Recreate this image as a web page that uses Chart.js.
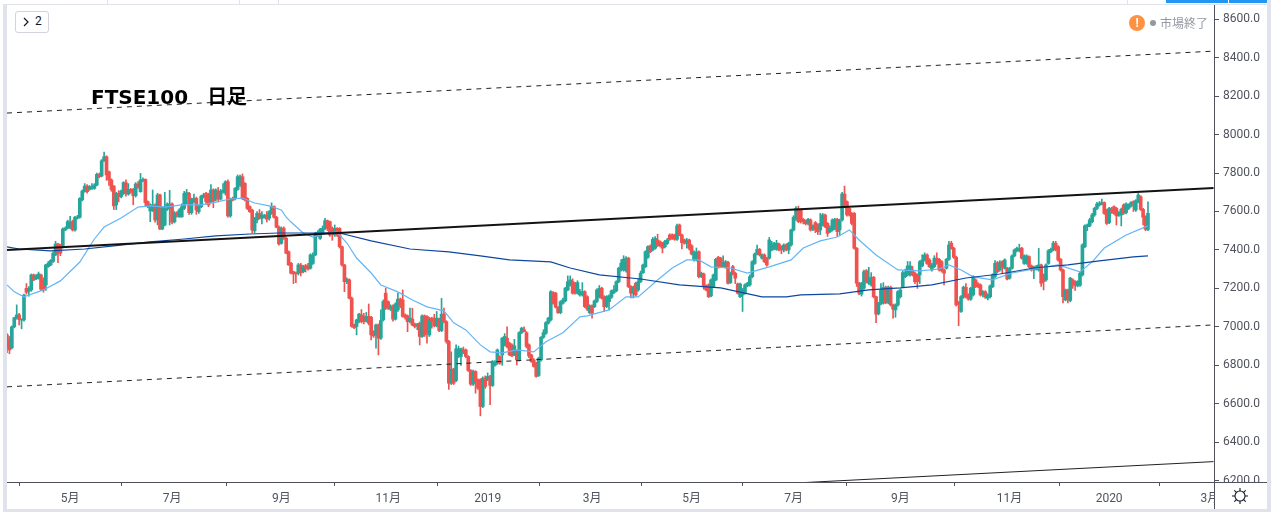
<!DOCTYPE html>
<html lang="ja"><head><meta charset="utf-8">
<script src="https://cdn.jsdelivr.net/npm/chart.js@4"></script>
<style>
html,body{margin:0;padding:0;background:#fff;width:1271px;height:512px;overflow:hidden}
#wrap{position:relative;width:1271px;height:512px}
canvas{position:absolute;left:0;top:0}
.box{position:absolute}
.t{position:absolute;white-space:nowrap}
</style></head><body>
<div id="wrap"><canvas id="c" width="1271" height="512"></canvas>
<div class="box" style="left:3px;top:4px;width:4px;height:505px;background:#e0e3eb"></div>
<div class="box" style="left:3px;top:4px;width:1264px;height:1px;background:#e0e3eb"></div>
<div class="box" style="left:107px;top:0;width:1px;height:4px;background:#e0e3eb"></div>
<div class="box" style="left:239px;top:0;width:1px;height:4px;background:#e0e3eb"></div>
<div class="box" style="left:278px;top:0;width:1px;height:4px;background:#e0e3eb"></div>
<div class="box" style="left:1127px;top:0;width:1px;height:4px;background:#e0e3eb"></div>
<div class="box" style="left:1166px;top:0;width:62px;height:3px;background:#2196f3"></div>
<div class="box" style="left:1229px;top:0;width:38px;height:3px;background:#2196f3"></div>
<div class="box" style="left:1267px;top:0;width:4px;height:512px;background:#e0e3eb"></div>
<div class="box" style="left:3px;top:509px;width:1268px;height:3px;background:#e0e3eb"></div>
<div class="box" style="left:1215px;top:483px;width:52px;height:26px;background:#fff"></div>
<div class="box" style="left:7px;top:482px;width:1260px;height:1px;background:#50535e"></div>
<div class="box" style="left:1214px;top:5px;width:1px;height:504px;background:#50535e"></div>
<div class="box" style="left:15px;top:11px;width:32px;height:20px;border:1px solid #d1d4dc;border-radius:3px;background:#fff"></div>
<svg class="box" style="left:22px;top:17px" width="8" height="10"><path d="M2 1 L6 5 L2 9" fill="none" stroke="#131722" stroke-width="1.2"/></svg>
<div class="t" style="left:35px;top:14px;font:12px Roboto,sans-serif;color:#131722">2</div>
<div class="t" id="title" style="left:91px;top:81px;font:bold 20px 'DejaVu Sans','Noto Sans CJK JP',sans-serif;color:#000"><span>FTSE100</span><span style="margin-left:19px">日足</span></div>
<div class="box" style="left:1129px;top:15px;width:16px;height:16px;border-radius:8px;background:#ff9142"></div>
<div class="t" style="left:1129px;top:15px;width:16px;text-align:center;font:bold 12px/16px Roboto,sans-serif;color:#fff">!</div>
<div class="box" style="left:1150px;top:20px;width:6px;height:6px;border-radius:3px;background:#9598a1"></div>
<div class="t" style="left:1160px;top:14px;font:12px 'Noto Sans CJK JP',sans-serif;color:#9598a1">市場終了</div>
<svg class="box" style="left:1231px;top:487px" width="18" height="18" viewBox="0 0 18 18"><circle cx="9" cy="9" r="5" fill="none" stroke="#131722" stroke-width="1.1"/><path d="M9 1v3M9 14v3M1 9h3M14 9h3M3.3 3.3l2.1 2.1M12.6 12.6l2.1 2.1M3.3 14.7l2.1-2.1M12.6 5.4l2.1-2.1" stroke="#131722" stroke-width="1.1"/></svg>
</div>
<script>
const opens=[6958,6930,6891,7000,7047,7062,7035,7036,7200,7185,7192,7270,7250,7253,7270,7244,7218,7313,7322,7340,7374,7431,7426,7417,7504,7513,7518,7547,7504,7565,
7570,7660,7703,7732,7715,7720,7720,7738,7793,7785,7864,7885,7807,7764,7732,7634,7694,7677,7694,7750,7690,7715,7715,7682,7743,7703,7760,7767,7651,7603,
7603,7634,7556,7686,7509,7530,7612,7616,7639,7547,7594,7572,7572,7616,7686,7694,7594,7651,7668,7599,7625,7677,7694,7686,7651,7712,7664,7706,7664,7703,
7695,7755,7577,7668,7668,7715,7738,7781,7746,7668,7625,7608,7499,7556,7590,7565,7570,7582,7565,7590,7625,7570,7518,7434,7513,7461,7391,7331,7287,7280,7279,
7322,7287,7318,7318,7305,7330,7374,7475,7460,7487,7512,7552,7547,7512,7478,7512,7512,7417,7322,7235,7244,7149,7010,7002,7027,7062,7054,7033,7054,7050,
6976,6958,7010,6941,7036,7175,7131,7092,7109,7040,7088,7144,7140,7062,7057,7027,7040,7015,7005,7019,6950,7057,7054,6958,7045,7045,7005,7040,6981,7066,
7027,6924,6707,6780,6721,6846,6846,6880,6880,6846,6773,6702,6768,6725,6725,6586,6733,6728,6742,6695,6800,6811,6846,6854,6906,6941,6915,6906,6854,6872,6828,
6970,6985,6970,6906,6854,6828,6811,6747,6828,6946,6967,7019,7036,7178,7175,7102,7074,7123,7135,7192,
7218,7235,7227,7175,7166,7166,7183,7157,7074,7109,7105,7132,7157,7201,7157,7105,7131,7154,7178,7187,7235,7296,7296,7292,7357,7209,7175,7227,7192,7235,
7282,7313,7362,7421,7400,7409,7452,7443,7435,7417,7434,7478,7478,7478,7455,7530,7478,7452,7435,7452,7422,7348,7348,7391,7261,7275,7213,7218,7161,7209,
7244,7362,7357,7317,7310,7336,7230,7313,7279,7223,7157,7166,7175,7213,7218,7261,7330,7379,7403,7357,7374,7357,7357,7400,7405,7403,7431,7417,7400,7426,
7400,7426,7504,7559,7611,7608,7559,7550,7539,7556,7510,7542,7530,7504,7530,7582,7538,7495,7504,
7512,7559,7504,7556,7691,7651,7616,7590,7590,7409,7227,7170,7201,7292,7227,7218,7258,7157,7068,7120,7123,7206,7126,7206,7114,7088,7114,7157,7209,7261,
7270,7270,7296,7279,7270,7270,7317,7348,7374,7348,7296,7313,7357,7351,7339,7296,7305,7351,7435,7409,7362,7126,7080,7154,7206,7166,7144,7166,7244,7223,
7218,7166,7183,7149,7157,7209,7261,7334,7296,7339,7305,7305,7253,7305,7369,7396,7396,7409,7330,7330,7365,7317,7296,7300,7296,7322,7270,7244,7330,7391,
7400,7435,7417,7351,7296,7140,7192,7137,7244,7235,7213,7216,7270,7417,7521,7525,7547,7582,7616,7634,7639,7646,7608,7542,7610,7625,7616,7580,7582,7634,7594,
7616,7628,7651,7608,7651,7677,7611,7573,7507];
const highs=[6965,6950,7005,7050,7114,7070,7042,7170,7225,7210,7275,7275,7272,7285,7275,7255,7325,7340,7350,7390,7445,7435,7430,7515,7520,7555,7575,7555,7575,7580,
7672,7712,7745,7740,7735,7745,7745,7800,7800,7870,7909,7890,7810,7770,7735,7700,7708,7712,7755,7765,7745,7720,7720,7750,7755,7798,7775,7770,7655,7640,
7712,7640,7695,7690,7625,7700,7645,7710,7645,7600,7600,7615,7640,7705,7715,7700,7670,7690,7675,7635,7685,7695,7700,7695,7740,7718,7718,7725,7715,7745,
7760,7765,7670,7675,7725,7790,7790,7795,7750,7672,7630,7612,7570,7600,7610,7600,7585,7600,7605,7645,7630,7575,7525,7520,7520,7465,7395,7335,7290,7285,7330,
7330,7320,7325,7330,7380,7385,7492,7500,7512,7525,7565,7556,7550,7520,7530,7516,7516,7420,7325,7255,7250,7155,7015,7040,7070,7090,7070,7075,7119,7055,
6980,7015,7015,7088,7140,7201,7135,7115,7114,7125,7175,7150,7192,7068,7062,7097,7097,7020,7018,7025,7062,7062,7058,7050,7050,7065,7080,7045,7148,7097,
7032,6930,6870,6785,6907,6900,6890,6895,6885,6850,6778,6775,6772,6730,6730,6740,6745,6760,6748,6825,6825,6885,6850,6945,6965,7000,6920,6912,6935,6880,6975,
6998,7000,6975,6912,6858,6835,6816,6842,6950,6985,7028,7050,7188,7183,7180,7106,7136,7150,7206,7265,
7265,7250,7232,7240,7195,7230,7188,7162,7115,7115,7140,7198,7215,7206,7162,7162,7166,7192,7215,7240,7310,7350,7370,7365,7362,7214,7212,7232,7250,7290,
7327,7396,7422,7426,7465,7470,7482,7448,7440,7450,7460,7484,7484,7482,7535,7535,7482,7457,7460,7457,7428,7396,7410,7396,7285,7280,7218,7224,7250,7275,
7356,7367,7362,7370,7345,7341,7285,7320,7285,7228,7228,7200,7224,7232,7270,7344,7384,7425,7408,7380,7380,7362,7465,7445,7440,7450,7436,7422,7432,7432,
7440,7509,7578,7625,7628,7612,7564,7556,7565,7562,7530,7548,7536,7590,7590,7586,7543,7525,7562,
7565,7565,7560,7700,7732,7656,7620,7595,7595,7413,7232,7232,7295,7298,7310,7282,7262,7160,7128,7225,7230,7212,7212,7212,7118,7120,7188,7198,7290,7300,
7340,7340,7315,7285,7275,7345,7375,7385,7380,7355,7330,7370,7385,7356,7345,7302,7356,7445,7445,7414,7368,7132,7162,7212,7225,7172,7206,7266,7250,7230,
7224,7188,7188,7172,7218,7276,7345,7340,7345,7344,7354,7310,7310,7374,7405,7415,7430,7414,7375,7375,7370,7322,7316,7320,7408,7326,7276,7328,7402,7410,
7445,7445,7423,7356,7300,7197,7197,7258,7250,7240,7240,7284,7432,7530,7535,7565,7590,7622,7648,7652,7665,7650,7612,7622,7622,7630,7622,7600,7618,7640,7645,
7640,7652,7656,7662,7695,7682,7616,7578,7650];
const lows=[6866,6860,6885,6995,7040,7010,6990,7030,7170,7160,7185,7240,7245,7248,7190,7180,7190,7310,7318,7335,7370,7334,7370,7410,7500,7510,7510,7498,7498,7560,
7565,7655,7700,7695,7710,7715,7715,7733,7775,7780,7860,7762,7735,7705,7610,7610,7650,7670,7688,7680,7685,7695,7635,7675,7720,7700,7755,7630,7620,7547,
7600,7545,7530,7505,7505,7525,7605,7530,7535,7540,7570,7570,7570,7610,7640,7585,7585,7645,7585,7590,7620,7670,7640,7625,7645,7620,7655,7650,7660,7695,
7685,7570,7570,7655,7660,7710,7730,7662,7655,7610,7595,7490,7490,7540,7560,7535,7565,7545,7555,7585,7565,7515,7425,7430,7455,7380,7320,7275,7225,7230,7270,
7265,7280,7285,7295,7300,7325,7370,7470,7455,7480,7505,7500,7470,7450,7470,7470,7410,7315,7183,7225,7145,6998,6990,6958,7020,7020,7015,7025,7010,6932,
6945,6889,6854,6935,7030,7090,7090,7085,7030,7035,7080,7100,7050,7040,6975,7020,7005,6995,6985,6906,6945,6950,6915,6950,6993,7000,7000,6975,6975,7020,
6915,6675,6700,6700,6715,6840,6800,6860,6840,6768,6695,6695,6655,6675,6537,6580,6680,6720,6595,6690,6795,6805,6805,6800,6900,6890,6850,6845,6850,6802,6822,
6965,6975,6890,6840,6815,6790,6738,6742,6822,6940,6960,7014,7030,7118,7098,7070,7068,7118,7130,7188,
7212,7170,7170,7170,7160,7160,7100,7085,7068,7045,7100,7126,7150,7144,7080,7100,7088,7148,7172,7182,7230,7290,7290,7285,7204,7150,7150,7160,7185,7230,
7278,7308,7356,7386,7395,7404,7418,7416,7385,7410,7428,7450,7455,7450,7450,7473,7405,7430,7410,7400,7374,7342,7342,7255,7256,7195,7187,7152,7156,7204,
7240,7305,7308,7310,7305,7222,7225,7270,7225,7170,7152,7080,7170,7208,7212,7255,7325,7374,7368,7352,7334,7316,7352,7395,7400,7398,7395,7380,7390,7395,
7380,7420,7498,7554,7542,7540,7535,7530,7530,7498,7500,7490,7480,7480,7525,7516,7470,7490,7498,
7505,7470,7478,7550,7628,7576,7576,7530,7404,7210,7168,7160,7195,7228,7220,7212,7150,7022,7062,7114,7118,7120,7120,7108,7045,7050,7108,7150,7204,7256,
7265,7264,7264,7225,7200,7225,7312,7342,7325,7308,7290,7308,7325,7290,7285,7218,7300,7346,7404,7356,7108,7006,7075,7148,7150,7138,7138,7160,7204,7204,
7160,7155,7148,7140,7150,7204,7255,7282,7290,7280,7300,7244,7248,7300,7364,7390,7390,7352,7325,7325,7308,7290,7250,7295,7290,7210,7192,7238,7325,7386,
7395,7395,7342,7290,7125,7135,7125,7130,7200,7190,7208,7210,7264,7412,7500,7520,7540,7575,7610,7628,7634,7585,7532,7536,7590,7585,7530,7575,7525,7585,7588,
7610,7622,7600,7600,7645,7605,7530,7500,7500];
const closes=[6891,6880,7000,7047,7062,7038,7038,7165,7180,7200,7270,7244,7265,7275,7196,7192,7322,7331,7345,7383,7431,7383,7383,7509,7513,7547,7547,7504,7570,7572,
7668,7706,7732,7703,7729,7729,7738,7793,7781,7864,7885,7790,7764,7715,7629,7694,7677,7706,7750,7694,7715,7703,7682,7743,7729,7764,7767,7646,7629,7634,
7634,7556,7686,7509,7616,7625,7639,7639,7544,7590,7582,7608,7625,7694,7698,7594,7664,7668,7608,7628,7680,7686,7651,7634,7712,7654,7712,7665,7706,7710,
7755,7577,7660,7660,7720,7781,7781,7668,7660,7616,7599,7504,7565,7590,7565,7582,7578,7560,7599,7625,7570,7518,7431,7513,7461,7383,7322,7279,7275,7276,7322,
7282,7313,7305,7301,7374,7374,7487,7492,7507,7512,7552,7512,7478,7487,7512,7478,7417,7322,7235,7247,7149,7002,6996,7036,7066,7027,7027,7054,7019,6958,
6953,7010,6941,7033,7131,7097,7097,7105,7040,7119,7144,7109,7054,7050,7027,7045,7010,7002,7012,6950,7057,6958,6967,7040,7027,7005,7045,6981,7066,7027,
6924,6707,6780,6707,6886,6886,6886,6872,6846,6773,6702,6768,6716,6681,6586,6733,6690,6742,6695,6820,6815,6880,6811,6941,6950,6898,6854,6849,6901,6828,6970,
6993,6975,6898,6849,6820,6794,6742,6837,6946,6970,7022,7045,7183,7123,7102,7074,7131,7140,7201,7235,
7244,7175,7175,7230,7183,7183,7105,7092,7109,7071,7135,7192,7201,7149,7105,7157,7161,7187,7192,7235,7305,7331,7352,7357,7209,7175,7206,7166,7235,7279,
7322,7391,7417,7391,7455,7460,7422,7422,7409,7443,7452,7455,7460,7455,7525,7478,7438,7435,7452,7409,7379,7391,7386,7261,7279,7209,7192,7157,7244,7270,
7351,7310,7313,7334,7339,7227,7279,7275,7253,7175,7223,7192,7218,7227,7261,7339,7379,7403,7374,7374,7339,7322,7452,7426,7435,7435,7400,7400,7426,7400,
7435,7504,7570,7616,7547,7547,7547,7536,7559,7504,7525,7504,7495,7538,7582,7521,7486,7512,7556,
7559,7495,7552,7691,7634,7582,7582,7538,7409,7227,7175,7227,7287,7235,7253,7258,7157,7066,7123,7192,7206,7126,7206,7114,7092,7114,7183,7192,7282,7282,
7317,7317,7270,7235,7235,7339,7348,7374,7330,7313,7322,7357,7330,7296,7292,7279,7351,7426,7409,7362,7114,7119,7157,7206,7157,7144,7201,7261,7209,7209,
7166,7183,7154,7166,7213,7270,7330,7287,7334,7310,7348,7249,7305,7369,7400,7409,7409,7357,7369,7369,7313,7296,7310,7313,7322,7227,7235,7322,7396,7403,
7435,7400,7348,7296,7157,7192,7140,7253,7218,7215,7235,7279,7426,7525,7530,7556,7582,7616,7639,7642,7646,7590,7538,7616,7598,7590,7577,7594,7611,7590,7639,
7634,7646,7639,7656,7686,7611,7570,7507,7590];
const maFastIdx=[0,3,7,15,22,30,36,40,47,54,59,65,72,80,86,92,97,102,108,113,115,117,122,126,132,136,140,144,150,154,161,167,173,180,184,189,195,199,204,210,217,222,229,236,239,248,255,260,268,274,280,285,290,298,305,314,323,328,335,342,347,351,358,367,376,384,388,393,398,406,414,423,433,442,447,452,461,470];
const maFastVal=[7218,7182,7156,7192,7239,7337,7457,7519,7566,7623,7629,7623,7634,7634,7649,7665,7670,7644,7629,7608,7571,7545,7488,7467,7488,7493,7436,7358,7280,7218,7182,7140,7104,7083,7021,6984,6906,6870,6865,6880,6870,6922,6969,7052,7057,7088,7156,7156,7244,7306,7348,7348,7312,7306,7280,7312,7348,7410,7447,7467,7504,7452,7374,7296,7291,7301,7322,7296,7260,7244,7280,7301,7322,7286,7338,7410,7478,7525];
const maSlowIdx=[0,5,18,32,44,59,73,86,100,112,125,137,150,166,182,195,207,224,232,244,261,277,294,311,321,327,343,355,368,381,395,409,423,437,450,464,470];
const maSlowVal=[7416,7405,7395,7405,7421,7442,7457,7473,7483,7488,7488,7488,7447,7405,7390,7369,7348,7338,7306,7270,7249,7218,7203,7156,7156,7166,7171,7192,7203,7218,7254,7275,7306,7322,7343,7364,7369];
const trendIdx=[0,497];
const resistance=[7400,7722];
const channelUpper=[8112,8434];
const channelLower=[6688,7010];
const channelBase=[5978,6299];
const yTicks=[6200,6400,6600,6800,7000,7200,7400,7600,7800,8000,8200,8400,8600];
const xTickIdx=[26,68,113,157,198,241,282,324,368,413,454,495.5];
const xTickText=['5月','7月','9月','11月','2019','3月','5月','7月','9月','11月','2020','3月'];
const UP='#26a69a',DOWN='#ef5350';
const n=Math.min(opens.length,highs.length,lows.length,closes.length);
const idx=[...Array(n).keys()];
const colors=idx.map(i=>closes[i]>=opens[i]?UP:DOWN);
const pts=(xs,ys)=>xs.map((x,i)=>({x,y:ys[i]}));
const line=(xs,ys,color,width,dash)=>({type:'line',data:pts(xs,ys),borderColor:color,borderWidth:width,borderDash:dash||[],pointRadius:0,tension:0,fill:false,order:1});
new Chart(document.getElementById('c'),{
 type:'bar',
 data:{datasets:[
  line(trendIdx,resistance,'#131313',2),
  line(trendIdx,channelUpper,'#222',1,[5,5]),
  line(trendIdx,channelLower,'#222',1,[5,5]),
  line(trendIdx,channelBase,'#222',1),
  line(maSlowIdx,maSlowVal,'#0d47a1',1.2),
  line(maFastIdx,maFastVal,'#64b5f6',1.2),
  {type:'bar',data:idx.map(i=>({x:i,y:[opens[i],closes[i]]})),backgroundColor:colors,borderWidth:0,barThickness:3,grouped:false,order:2},
  {type:'bar',data:idx.map(i=>({x:i,y:[lows[i],highs[i]]})),backgroundColor:colors,borderWidth:0,barThickness:1,grouped:false,order:3}
 ]},
 options:{
  responsive:false,animation:false,devicePixelRatio:1,
  layout:{padding:{left:7,top:5,right:5,bottom:4}},
  plugins:{legend:{display:false},tooltip:{enabled:false}},
  scales:{
   x:{type:'linear',min:0,max:497.2,offset:false,
    afterBuildTicks:a=>{a.ticks=xTickIdx.map(v=>({value:v}));},
    afterFit:a=>{a.height=26;a.paddingLeft=0;a.paddingRight=0;},
    grid:{drawOnChartArea:false,drawTicks:true,tickLength:4,color:'#50535e'},
    border:{color:'#50535e'},
    ticks:{autoSkip:false,maxRotation:0,padding:6,color:'#50535e',font:{family:"Roboto,'Noto Sans CJK JP',sans-serif",size:12},
     callback:v=>xTickText[xTickIdx.indexOf(v)]}},
   y:{position:'right',min:6193,max:8674,
    afterBuildTicks:a=>{a.ticks=yTicks.map(v=>({value:v}));},
    afterFit:a=>{a.width=52;a.paddingTop=0;a.paddingBottom=0;},
    grid:{drawOnChartArea:false,drawTicks:true,tickLength:5,color:'#50535e'},
    border:{color:'#50535e'},
    ticks:{padding:4,color:'#50535e',font:{family:"Roboto,sans-serif",size:12},callback:v=>v.toFixed(1)}}
  }
 }
});
</script>
</body></html>
